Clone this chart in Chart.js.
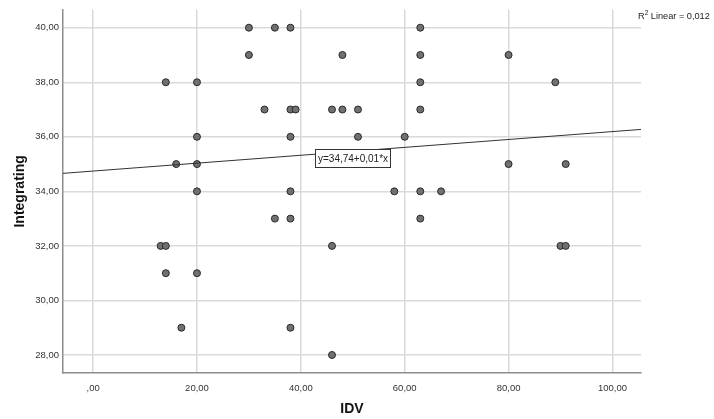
<!DOCTYPE html>
<html>
<head>
<meta charset="utf-8">
<script src="https://cdn.jsdelivr.net/npm/chart.js@4"></script>
<style>
  html, body { margin: 0; padding: 0; background: #fff; }
  #wrap { width: 714px; height: 419px; }
</style>
</head>
<body>
<div id="wrap"><canvas id="scatterChart" width="714" height="419"></canvas></div>
<script>
// IDV values (x) and Integrating values (y)
const idv = [
    30, 35, 38, 63,
    30, 48, 63, 80,
    14, 20, 63, 89,
    33, 38, 39, 46, 48, 51, 63,
    20, 38, 51, 60,
    16, 20, 46, 80, 91,
    20, 38, 58, 63, 67,
    35, 38, 63,
    13, 14, 46, 90, 91,
    14, 20,
    17, 38,
    46
];
const integrating = [
    40, 40, 40, 40,
    39, 39, 39, 39,
    38, 38, 38, 38,
    37, 37, 37, 37, 37, 37, 37,
    36, 36, 36, 36,
    35, 35, 35, 35, 35,
    34, 34, 34, 34, 34,
    33, 33, 33,
    32, 32, 32, 32, 32,
    31, 31,
    29, 29,
    28
];

// Linear fit
const fitIntercept = 34.744;
const fitSlope = 0.01447;
const fitLabel = 'y=34,74+0,01*x';
const r2Label = '0,012';

const xTicks = [0, 20, 40, 60, 80, 100];
const xTickLabels = [',00', '20,00', '40,00', '60,00', '80,00', '100,00'];
const yTicks = [28, 30, 32, 34, 36, 38, 40];
const yTickLabels = ['28,00', '30,00', '32,00', '34,00', '36,00', '38,00', '40,00'];

const xMin = -5.8, xMax = 105.5;
const yMin = 27.34, yMax = 40.66;

const points = idv.map((x, i) => ({ x: x, y: integrating[i] }));
const fitLine = [xMin, xMax].map(x => ({ x: x, y: fitIntercept + fitSlope * x }));

const FONT = '"Liberation Sans", Arial, sans-serif';

// equation box and R2 text
const annotationPlugin = {
    id: 'fitAnnotations',
    afterDatasetsDraw(chart) {
        const ctx = chart.ctx;
        const xs = chart.scales.x, ys = chart.scales.y;
        const left = Math.round(xs.getPixelForValue(42.8));
        const cy = Math.round(ys.getPixelForValue(35.22));
        ctx.save();
        ctx.font = '10px ' + FONT;
        const w = Math.round(ctx.measureText(fitLabel).width) + 5;
        const h = 18;
        ctx.fillStyle = '#fff';
        ctx.fillRect(left, cy - h / 2, w, h);
        ctx.strokeStyle = '#333';
        ctx.lineWidth = 1;
        ctx.strokeRect(left + 0.5, cy - h / 2 + 0.5, w, h);
        ctx.fillStyle = '#222';
        ctx.textBaseline = 'middle';
        ctx.fillText(fitLabel, left + 3, cy + 1);
        ctx.restore();
    },
    afterDraw(chart) {
        const ctx = chart.ctx;
        const x0 = chart.chartArea.right - 3;
        const base = 19;
        ctx.save();
        ctx.fillStyle = '#222';
        ctx.textBaseline = 'alphabetic';
        ctx.font = '9.2px ' + FONT;
        ctx.fillText('R', x0, base);
        let x = x0 + ctx.measureText('R').width;
        ctx.font = '6.5px ' + FONT;
        ctx.fillText('2', x, base - 4);
        x += ctx.measureText('2').width;
        ctx.font = '9.2px ' + FONT;
        ctx.fillText(' Linear = ' + r2Label, x, base);
        ctx.restore();
    }
};

const ctx = document.getElementById('scatterChart').getContext('2d');
new Chart(ctx, {
    type: 'scatter',
    data: {
        datasets: [
            {
                label: 'Integrating',
                data: points,
                backgroundColor: '#707070',
                borderColor: '#2a2a2a',
                borderWidth: 1,
                pointRadius: 3.5,
                order: 1
            },
            {
                type: 'line',
                label: 'Fit',
                data: fitLine,
                borderColor: '#333',
                borderWidth: 1,
                pointRadius: 0,
                fill: false,
                order: 0
            }
        ]
    },
    options: {
        responsive: false,
        animation: false,
        layout: {
            padding: { left: 0, right: 73, top: 4, bottom: 0 }
        },
        plugins: {
            legend: { display: false },
            tooltip: { enabled: false }
        },
        scales: {
            x: {
                type: 'linear',
                min: xMin,
                max: xMax,
                afterBuildTicks: scale => { scale.ticks = xTicks.map(v => ({ value: v })); },
                afterFit: scale => { scale.height = 46; },
                grid: {
                    color: '#dadada',
                    lineWidth: 1.5,
                    drawTicks: false
                },
                border: { color: '#8c8c8c', width: 1.5 },
                ticks: {
                    padding: 10,
                    color: '#333',
                    font: { family: FONT, size: 9.5 },
                    maxRotation: 0,
                    callback: v => xTickLabels[xTicks.indexOf(v)]
                },
                title: {
                    display: true,
                    text: 'IDV',
                    color: '#111',
                    padding: { top: 0, bottom: 1 },
                    font: { family: FONT, size: 14, weight: 'bold' }
                }
            },
            y: {
                type: 'linear',
                min: yMin,
                max: yMax,
                afterBuildTicks: scale => { scale.ticks = yTicks.map(v => ({ value: v })); },
                afterFit: scale => { scale.width = 63; },
                grid: {
                    color: '#dadada',
                    lineWidth: 1.5,
                    drawTicks: false
                },
                border: { color: '#8c8c8c', width: 1.5 },
                ticks: {
                    padding: 4,
                    color: '#333',
                    font: { family: FONT, size: 9.5 },
                    callback: v => yTickLabels[yTicks.indexOf(v)]
                },
                title: {
                    display: true,
                    text: 'Integrating',
                    color: '#111',
                    padding: { top: 12, bottom: 0 },
                    font: { family: FONT, size: 14, weight: 'bold' }
                }
            }
        }
    },
    plugins: [annotationPlugin]
});
</script>
</body>
</html>
